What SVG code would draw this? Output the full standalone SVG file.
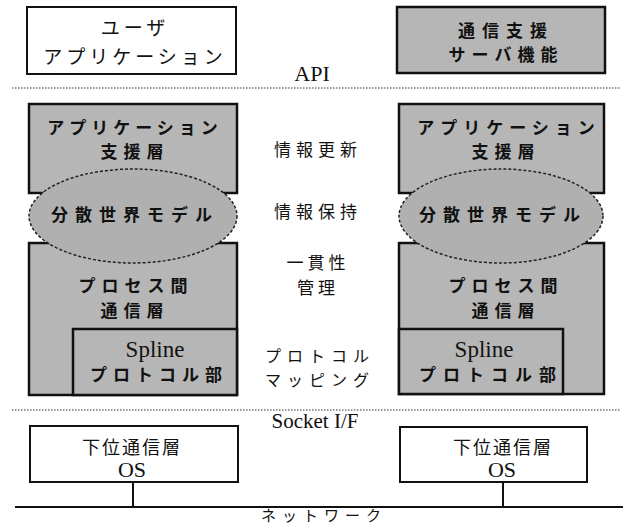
<svg xmlns="http://www.w3.org/2000/svg" width="628" height="526" viewBox="0 0 628 526">
<style>
.bg{fill:#ffffff}
.box{fill:#ffffff;stroke:#111;stroke-width:2}
.gbox{fill:#b6b6b6;stroke:#111;stroke-width:2.5}
.ell{fill:#b0b0b0;stroke:#222;stroke-width:1.5;stroke-dasharray:3 2}
.sep{stroke:#333;stroke-width:1.2;stroke-dasharray:1.5 1.5;fill:none}
.ln{stroke:#111;stroke-width:2;fill:none}
.jp{font-family:"Noto Sans CJK JP","Noto Sans",sans-serif;fill:#111;text-anchor:middle}
.jb{font-family:"Noto Sans CJK JP","Noto Sans",sans-serif;fill:#111;text-anchor:middle;font-weight:bold;font-size:17px}
.lat{font-family:"Liberation Serif",serif;fill:#111;text-anchor:middle}
</style>
<rect class="bg" x="0" y="0" width="628" height="526"/>
<g id="separators">
<line class="sep" x1="12" y1="88" x2="620" y2="88"/>
<line class="sep" x1="12" y1="410" x2="620" y2="410"/>
</g>
<g id="user-app">
<rect class="box" x="27" y="7" width="209" height="67"/>
<text class="jp" x="135" y="35" font-size="19" letter-spacing="4">ユーザ</text>
<text class="jp" x="135" y="64" font-size="19" letter-spacing="4">アプリケーション</text>
</g>
<g id="server">
<rect class="gbox" x="397" y="7" width="208" height="66"/>
<text class="jb" x="506" y="37" letter-spacing="7">通信支援</text>
<text class="jb" x="506" y="61" letter-spacing="6">サーバ機能</text>
</g>
<text class="lat" x="312" y="81" font-size="22">API</text>
<g id="left-stack">
<rect class="gbox" x="29" y="104" width="208" height="89"/>
<text class="jb" x="135" y="134" letter-spacing="5">アプリケーション</text>
<text class="jb" x="135" y="158" letter-spacing="6">支援層</text>
<rect class="gbox" x="29" y="243" width="208" height="152"/>
<rect class="gbox" x="73" y="329" width="164" height="66"/>
<ellipse class="ell" cx="133" cy="216" rx="104" ry="47"/>
<text class="jb" x="135" y="221" letter-spacing="7">分散世界モデル</text>
<text class="jb" x="136" y="292" letter-spacing="6">プロセス間</text>
<text class="jb" x="135" y="317" letter-spacing="6">通信層</text>
<text class="lat" x="155" y="357" font-size="23">Spline</text>
<text class="jb" x="159" y="381" letter-spacing="6">プロトコル部</text>
</g>
<g id="right-stack">
<rect class="gbox" x="399" y="104" width="205" height="89"/>
<text class="jb" x="509" y="134" letter-spacing="6">アプリケーション</text>
<text class="jb" x="506" y="158" letter-spacing="6">支援層</text>
<rect class="gbox" x="399" y="243" width="205" height="151"/>
<rect class="gbox" x="399" y="329" width="164" height="65"/>
<ellipse class="ell" cx="501" cy="216" rx="102" ry="47"/>
<text class="jb" x="503" y="221" letter-spacing="7">分散世界モデル</text>
<text class="jb" x="506" y="292" letter-spacing="6">プロセス間</text>
<text class="jb" x="506" y="317" letter-spacing="6">通信層</text>
<text class="lat" x="484" y="357" font-size="23">Spline</text>
<text class="jb" x="491" y="381" letter-spacing="7">プロトコル部</text>
</g>
<g id="mid-labels">
<text class="jp" x="318" y="156" font-size="17" letter-spacing="5">情報更新</text>
<text class="jp" x="318" y="218" font-size="17" letter-spacing="5">情報保持</text>
<text class="jp" x="318" y="269" font-size="17" letter-spacing="4">一貫性</text>
<text class="jp" x="318" y="294" font-size="17" letter-spacing="4">管理</text>
<text class="jp" x="320" y="362" font-size="16" letter-spacing="6">プロトコル</text>
<text class="jp" x="320" y="386" font-size="16" letter-spacing="6">マッピング</text>
</g>
<text class="lat" x="315" y="428" font-size="21">Socket I/F</text>
<g id="left-os">
<rect class="box" x="30" y="426" width="208" height="56"/>
<text class="jp" x="132" y="454" font-size="18" letter-spacing="2">下位通信層</text>
<text class="lat" x="132" y="477" font-size="22">OS</text>
</g>
<g id="right-os">
<rect class="box" x="400" y="427" width="187" height="55"/>
<text class="jp" x="503" y="454" font-size="18" letter-spacing="2">下位通信層</text>
<text class="lat" x="502" y="477" font-size="22">OS</text>
</g>
<g id="connectors">
<line class="ln" x1="15" y1="507" x2="623" y2="507"/>
<line class="ln" x1="133" y1="482" x2="133" y2="507"/>
<line class="ln" x1="503" y1="482" x2="503" y2="507"/>
</g>
<text class="jp" x="324" y="521" font-size="15" letter-spacing="6">ネットワーク</text>
</svg>
